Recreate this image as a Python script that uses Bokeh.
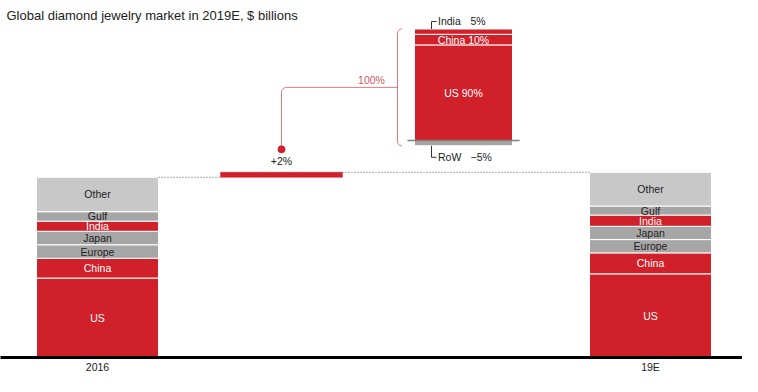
import math
from bokeh.plotting import figure
from bokeh.models import ColumnDataSource, Range1d, LinearAxis, FixedTicker, Grid
from bokeh.core.properties import value
from bokeh.embed import file_html
from bokeh.resources import INLINE

# ---------------- data ----------------
title_text = "Global diamond jewelry market in 2019E, $ billions"
years = ["2016", "19E"]
segments = ["US", "China", "Europe", "Japan", "India", "Gulf", "Other"]
values_2016 = [35.3, 8.8, 6.0, 6.0, 4.5, 4.2, 15.3]
values_19e = [37.2, 9.3, 5.9, 5.9, 5.0, 4.0, 15.0]
growth_label = "+2%"
share_segments = ["US", "China", "India", "RoW"]
share_values = [90, 10, 5, -5]
share_total_label = "100%"

# ---------------- styles / layout ----------------
RED = "#D0202A"
GREY = "#A6A6A6"
LIGHT = "#C8C8C8"
DARK_TXT = "#222222"
PINK = "#D0585E"
FONT = "Liberation Sans"
seg_colors = {"US": RED, "China": RED, "Europe": GREY, "Japan": GREY,
              "India": RED, "Gulf": GREY, "Other": LIGHT, "RoW": GREY}

W = 742
BOTTOM = 19
FH = 357
PPU = 2.25          # px per $B
SHARE_PPU = 1.062   # px per %
SHARE_BASE = 217    # px of the share baseline above the main baseline
BAR_W = 122
bar_x = {"2016": 97, "19E": 650}
DELTA_X = 281
SHARE_X = 463
SHARE_W = 98
BRACKET_X = 397
LEADER_X = SHARE_X - SHARE_W / 2 + 17

p = figure(frame_width=W, frame_height=FH, x_range=Range1d(0, W), y_range=Range1d(0, FH / PPU),
           output_backend="svg", toolbar_location=None,
           x_axis_location=None, y_axis_location=None,
           min_border_left=0, min_border_right=0, min_border_top=0,
           min_border_bottom=BOTTOM)
p.extra_y_ranges = {
    "share": Range1d(-SHARE_BASE / SHARE_PPU, (FH - SHARE_BASE) / SHARE_PPU),
    "px": Range1d(0, FH),
}
p.outline_line_color = None
p.background_fill_color = "white"
p.border_fill_color = "white"

ax = LinearAxis(ticker=FixedTicker(ticks=[bar_x[y] for y in years]),
                major_label_overrides={bar_x[y]: y for y in years},
                axis_line_width=3, axis_line_color="black",
                major_tick_line_color=None, minor_tick_line_color=None,
                major_tick_out=0, major_tick_in=0, minor_tick_out=0, minor_tick_in=0,
                major_label_text_font_size="10.5px", major_label_standoff=3,
                major_label_text_font=FONT, major_label_text_color=DARK_TXT)
p.add_layout(ax, "below")
p.center = [r for r in p.center if not isinstance(r, Grid)]

# ---------------- stacked bars ----------------
rows = dict(x=[], bottom=[], top=[], mid=[], color=[], label=[], tcolor=[])
totals = {}
for yr, vals in zip(years, [values_2016, values_19e]):
    acc = 0.0
    for seg, v in zip(segments, vals):
        rows["x"].append(bar_x[yr])
        rows["bottom"].append(acc)
        rows["top"].append(acc + v)
        rows["mid"].append(acc + v / 2)
        rows["color"].append(seg_colors[seg])
        rows["label"].append(seg)
        rows["tcolor"].append("white" if seg_colors[seg] == RED else DARK_TXT)
        acc += v
    totals[yr] = acc
src = ColumnDataSource(rows)
p.vbar(x="x", width=BAR_W, bottom="bottom", top="top", fill_color="color",
       line_color="white", line_width=1, source=src)
p.text(x="x", y="mid", text="label", text_color="tcolor", text_font=value(FONT),
       text_font_size="10.5px", text_align="center", text_baseline="middle", source=src)

t16, t19 = totals[years[0]], totals[years[1]]
# delta bar
p.vbar(x=[DELTA_X], width=BAR_W, bottom=[t16], top=[t19], fill_color=RED, line_color=RED,
       line_width=0.5)
# dotted connectors
p.segment(x0=[bar_x[years[0]] + BAR_W / 2, DELTA_X + BAR_W / 2], y0=[t16, t19],
          x1=[DELTA_X - BAR_W / 2, bar_x[years[1]] - BAR_W / 2], y1=[t16, t19],
          line_dash="1 2", line_color="#555555", line_width=1)

# ---------------- share-of-growth bar ----------------
srows = dict(x=[], bottom=[], top=[], color=[])
pos, neg = 0.0, 0.0
seg_pos = {}
for seg, v in zip(share_segments, share_values):
    if v >= 0:
        b, t = pos, pos + v
        pos += v
    else:
        b, t = neg + v, neg
        neg += v
    seg_pos[seg] = (b, t)
    srows["x"].append(SHARE_X)
    srows["bottom"].append(b)
    srows["top"].append(t)
    srows["color"].append(seg_colors[seg])
p.vbar(x="x", width=SHARE_W, bottom="bottom", top="top", fill_color="color",
       line_color="white", line_width=1, source=ColumnDataSource(srows),
       y_range_name="share")
p.segment(x0=[SHARE_X - SHARE_W / 2 - 7], x1=[SHARE_X + SHARE_W / 2 + 7], y0=[0], y1=[0],
          line_color="#7F7F7F", line_width=1.5, y_range_name="share")

# inside labels
in_x, in_y, in_t = [], [], []
for seg, v in zip(share_segments, share_values):
    if abs(v) >= 10:
        b, t = seg_pos[seg]
        in_x.append(SHARE_X)
        in_y.append((b + t) / 2)
        in_t.append(f"{seg} {v}%")
p.text(x=in_x, y=in_y, text=in_t, text_color="white", text_font=value(FONT),
       text_font_size="10.5px", text_align="center", text_baseline="middle",
       y_range_name="share")


def share_px(v):
    return SHARE_BASE + v * SHARE_PPU


# outside labels with leaders
lx, ly, lt = [], [], []
for seg, v in zip(share_segments, share_values):
    if abs(v) < 10:
        if v >= 0:
            y0 = share_px(pos)
            yl = y0 + 7.5
        else:
            y0 = share_px(neg)
            yl = y0 - 11.5
        p.line(x=[LEADER_X, LEADER_X, LEADER_X + 5], y=[y0, yl, yl], line_color="#333333",
               line_width=1, y_range_name="px")
        lx += [LEADER_X + 6.5, LEADER_X + 39]
        ly += [yl, yl]
        lt += [seg, (f"{v}%" if v >= 0 else f"\u2212{abs(v)}%")]
p.text(x=lx, y=ly, text=lt, text_color=DARK_TXT, text_font=value(FONT),
       text_font_size="10.5px", text_align="left", text_baseline="middle", y_range_name="px")

# bracket
top_px, bot_px = share_px(pos), share_px(neg)
r2 = 4.5
bx, by = [], []
for k in range(9):
    th = math.pi / 2 + (math.pi / 2) * k / 8
    bx.append(BRACKET_X + r2 + r2 * math.cos(th))
    by.append(top_px - r2 + r2 * math.sin(th))
for k in range(9):
    th = math.pi + (math.pi / 2) * k / 8
    bx.append(BRACKET_X + r2 + r2 * math.cos(th))
    by.append(bot_px + r2 + r2 * math.sin(th))
p.line(x=bx, y=by, line_color=RED, line_alpha=0.6, line_width=1, y_range_name="px")

# connector from growth dot to bracket
mid_px = (top_px + bot_px) / 2
dot_px = t19 * PPU + 23
r = 5
cx, cy = [DELTA_X], [dot_px]
for k in range(9):
    th = math.pi - (math.pi / 2) * k / 8
    cx.append(DELTA_X + r + r * math.cos(th))
    cy.append(mid_px - r + r * math.sin(th))
cx.append(BRACKET_X)
cy.append(mid_px)
p.line(x=cx, y=cy, line_color=RED, line_alpha=0.6, line_width=1, y_range_name="px")
p.scatter(x=[DELTA_X], y=[dot_px], size=7, fill_color=RED, line_color=RED, y_range_name="px")
p.text(x=[(DELTA_X + BRACKET_X) / 2 + 32], y=[mid_px + 7], text=[share_total_label],
       text_color=PINK, text_font=value(FONT), text_font_size="10.5px",
       text_align="center", text_baseline="middle", y_range_name="px")
p.text(x=[DELTA_X], y=[t19 * PPU + 11], text=[growth_label], text_color=DARK_TXT,
       text_font=value(FONT), text_font_size="10.5px", text_align="center",
       text_baseline="middle", y_range_name="px")

# title
p.text(x=[6], y=[FH - 15], text=[title_text], text_color=DARK_TXT, text_font=value(FONT),
       text_font_size="13px", text_align="left", text_baseline="middle", y_range_name="px")

open("out.html", "w").write(file_html(p, INLINE))
